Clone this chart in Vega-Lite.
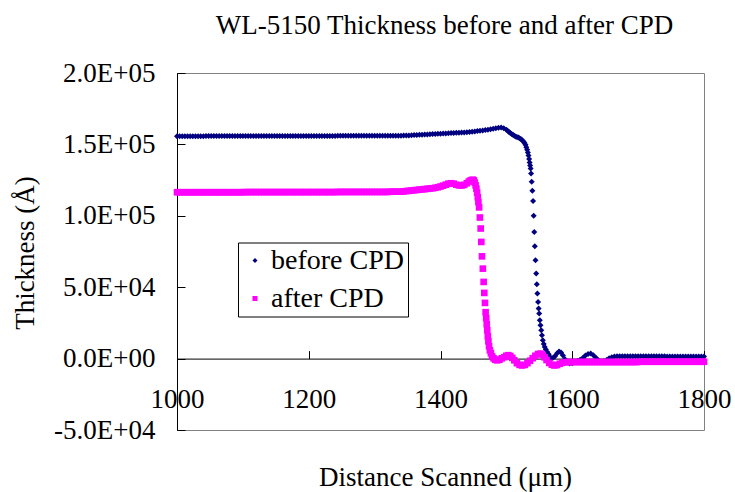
{
  "$schema": "https://vega.github.io/schema/vega-lite/v6.json",
  "width": 527,
  "height": 357,
  "autosize": {"type": "none"},
  "padding": {"left": 177, "top": 73, "right": 31, "bottom": 62},
  "background": "white",
  "config": {
    "font": "Liberation Serif",
    "view": {"stroke": "#808080", "strokeWidth": 1},
    "axis": {
      "labelFont": "Liberation Serif",
      "titleFont": "Liberation Serif",
      "labelFontSize": 27,
      "titleFontSize": 27,
      "labelColor": "black",
      "titleColor": "black",
      "titleFontWeight": "normal",
      "domainColor": "black",
      "tickColor": "black",
      "grid": false,
      "labelOverlap": false,
      "labelFlush": false,
      "labelBound": false
    },
    "legend": {
      "labelFont": "Liberation Serif",
      "labelFontSize": 28,
      "labelColor": "black"
    }
  },
  "title": {
    "text": "WL-5150 Thickness before and after CPD",
    "font": "Liberation Serif",
    "fontSize": 27,
    "fontWeight": "normal",
    "color": "black",
    "anchor": "middle",
    "baseline": "alphabetic",
    "offset": -2,
    "dx": 4
  },
  "datasets": {
    "before": [
      {"x":1000,"y":155700},{"x":1004,"y":155700},{"x":1008,"y":155700},{"x":1012,"y":155700},{"x":1016,"y":155700},{"x":1020,"y":155700},{"x":1024,"y":155700},{"x":1028,"y":155700},{"x":1032,"y":155700},{"x":1036,"y":155700},{"x":1040,"y":155700},
      {"x":1044,"y":155800},{"x":1048,"y":155800},{"x":1052,"y":155800},{"x":1056,"y":155800},{"x":1060,"y":155800},{"x":1064,"y":155800},{"x":1068,"y":155800},{"x":1072,"y":155800},{"x":1076,"y":155800},{"x":1080,"y":155800},{"x":1084,"y":155800},{"x":1088,"y":155800},{"x":1092,"y":155800},{"x":1096,"y":155800},{"x":1100,"y":155800},{"x":1104,"y":155800},{"x":1108,"y":155800},{"x":1112,"y":155800},{"x":1116,"y":155800},{"x":1120,"y":155800},{"x":1124,"y":155800},{"x":1128,"y":155800},{"x":1132,"y":155800},{"x":1136,"y":155800},{"x":1140,"y":155800},
      {"x":1144,"y":155900},{"x":1148,"y":155900},{"x":1152,"y":155900},{"x":1156,"y":155900},{"x":1160,"y":155900},{"x":1164,"y":155900},{"x":1168,"y":155900},{"x":1172,"y":155900},{"x":1176,"y":155900},{"x":1180,"y":155900},{"x":1184,"y":155900},{"x":1188,"y":155900},{"x":1192,"y":155900},{"x":1196,"y":155900},{"x":1200,"y":155900},{"x":1204,"y":155900},{"x":1208,"y":155900},{"x":1212,"y":155900},{"x":1216,"y":155900},{"x":1220,"y":155900},{"x":1224,"y":155900},{"x":1228,"y":155900},{"x":1232,"y":155900},{"x":1236,"y":155900},{"x":1240,"y":155900},
      {"x":1244,"y":156000},{"x":1248,"y":156000},{"x":1252,"y":156000},{"x":1256,"y":156000},{"x":1260,"y":156000},{"x":1264,"y":156000},{"x":1268,"y":156000},{"x":1272,"y":156000},{"x":1276,"y":156000},{"x":1280,"y":156000},{"x":1284,"y":156000},{"x":1288,"y":156000},{"x":1292,"y":156000},{"x":1296,"y":156000},{"x":1300,"y":156000},{"x":1304,"y":156000},{"x":1308,"y":156000},{"x":1312,"y":156000},{"x":1316,"y":156000},{"x":1320,"y":156000},
      {"x":1324,"y":156100},{"x":1328,"y":156100},{"x":1332,"y":156100},{"x":1336,"y":156100},{"x":1340,"y":156100},
      {"x":1344,"y":156200},{"x":1348,"y":156300},{"x":1352,"y":156300},{"x":1356,"y":156400},{"x":1360,"y":156500},{"x":1364,"y":156600},{"x":1368,"y":156700},{"x":1372,"y":156800},{"x":1376,"y":156900},{"x":1380,"y":157000},{"x":1384,"y":157100},{"x":1388,"y":157200},{"x":1392,"y":157300},{"x":1396,"y":157400},{"x":1400,"y":157500},{"x":1404,"y":157600},{"x":1408,"y":157700},{"x":1412,"y":157800},{"x":1416,"y":157900},{"x":1420,"y":158000},{"x":1424,"y":158100},{"x":1428,"y":158200},{"x":1432,"y":158300},{"x":1436,"y":158400},{"x":1440,"y":158500},{"x":1444,"y":158700},{"x":1448,"y":158900},{"x":1452,"y":159100},{"x":1456,"y":159300},{"x":1460,"y":159500},{"x":1464,"y":159700},{"x":1468,"y":160000},{"x":1472,"y":160300},{"x":1476,"y":160600},{"x":1480,"y":160900},{"x":1484,"y":161300},{"x":1488,"y":161700},{"x":1492,"y":161900},{"x":1496,"y":161300},{"x":1500,"y":160200},
      {"x":1502,"y":159500},{"x":1504,"y":158700},{"x":1506,"y":158000},{"x":1508,"y":157300},{"x":1510,"y":156700},{"x":1512,"y":156100},{"x":1514,"y":155600},{"x":1516,"y":155200},{"x":1518,"y":154800},{"x":1520,"y":154300},{"x":1522,"y":153700},{"x":1524,"y":152900},{"x":1526,"y":152000},{"x":1527.5,"y":151000},{"x":1529,"y":149700},{"x":1530.3,"y":148000},{"x":1531.5,"y":146300},{"x":1532.6,"y":144400},{"x":1533.6,"y":142200},{"x":1534.5,"y":139800},{"x":1535.3,"y":137400},{"x":1536.1,"y":135200},{"x":1536.8,"y":133200},
      {"x":1537.5,"y":129700},{"x":1538.4,"y":123800},{"x":1539.5,"y":117500},{"x":1540.5,"y":110300},{"x":1541.5,"y":100000},{"x":1542.3,"y":88700},{"x":1543.2,"y":78700},{"x":1544.2,"y":68900},{"x":1545.3,"y":59600},{"x":1546.2,"y":52100},{"x":1547.1,"y":45600},{"x":1548.1,"y":39700},{"x":1549,"y":35100},{"x":1549.8,"y":31500},{"x":1550.8,"y":26800},{"x":1551.8,"y":23300},{"x":1552.9,"y":19800},{"x":1554,"y":16300},{"x":1555.3,"y":12800},{"x":1556.7,"y":10200},{"x":1558.2,"y":8100},{"x":1560,"y":6300},{"x":1562,"y":4600},{"x":1564.2,"y":3000},{"x":1566.5,"y":1000},{"x":1569,"y":300},{"x":1571.5,"y":700},{"x":1574,"y":1800},{"x":1577,"y":3800},{"x":1580,"y":4900},{"x":1583,"y":4200},{"x":1586,"y":2200},{"x":1589,"y":-500},{"x":1592,"y":-2400},{"x":1596,"y":-3400},{"x":1600,"y":-3300},{"x":1604,"y":-2500},{"x":1608,"y":-1600},{"x":1612,"y":-800},{"x":1616,"y":500},{"x":1620,"y":2200},{"x":1624,"y":3300},{"x":1628,"y":3500},{"x":1632,"y":2400},{"x":1636,"y":600},{"x":1640,"y":-1300},{"x":1644,"y":-2200},{"x":1648,"y":-1900},{"x":1652,"y":-900},{"x":1656,"y":200},{"x":1660,"y":1000},{"x":1664,"y":1500},
      {"x":1668,"y":1600},{"x":1672,"y":1600},{"x":1676,"y":1600},{"x":1680,"y":1600},{"x":1684,"y":1600},{"x":1688,"y":1600},{"x":1692,"y":1600},{"x":1696,"y":1600},{"x":1700,"y":1600},{"x":1704,"y":1600},{"x":1708,"y":1600},{"x":1712,"y":1600},{"x":1716,"y":1600},{"x":1720,"y":1600},{"x":1724,"y":1600},{"x":1728,"y":1600},{"x":1732,"y":1600},{"x":1736,"y":1600},{"x":1740,"y":1600},
      {"x":1744,"y":1400},{"x":1748,"y":1400},{"x":1752,"y":1400},{"x":1756,"y":1400},{"x":1760,"y":1400},{"x":1764,"y":1400},{"x":1768,"y":1400},{"x":1772,"y":1400},{"x":1776,"y":1400},{"x":1780,"y":1400},{"x":1784,"y":1400},{"x":1788,"y":1400},{"x":1792,"y":1400},{"x":1796,"y":1400},{"x":1800,"y":1400}
    ],
    "after": [
      {"x":1000,"y":116500},{"x":1004,"y":116500},{"x":1008,"y":116500},{"x":1012,"y":116500},{"x":1016,"y":116500},{"x":1020,"y":116500},{"x":1024,"y":116500},{"x":1028,"y":116500},{"x":1032,"y":116500},{"x":1036,"y":116500},{"x":1040,"y":116500},{"x":1044,"y":116500},{"x":1048,"y":116500},{"x":1052,"y":116500},{"x":1056,"y":116500},{"x":1060,"y":116500},{"x":1064,"y":116500},{"x":1068,"y":116500},{"x":1072,"y":116500},{"x":1076,"y":116500},{"x":1080,"y":116500},{"x":1084,"y":116500},{"x":1088,"y":116500},{"x":1092,"y":116500},{"x":1096,"y":116500},{"x":1100,"y":116500},
      {"x":1104,"y":116600},{"x":1108,"y":116600},{"x":1112,"y":116600},{"x":1116,"y":116600},{"x":1120,"y":116600},{"x":1124,"y":116600},{"x":1128,"y":116600},{"x":1132,"y":116600},{"x":1136,"y":116600},{"x":1140,"y":116600},{"x":1144,"y":116600},{"x":1148,"y":116600},{"x":1152,"y":116600},{"x":1156,"y":116600},{"x":1160,"y":116600},{"x":1164,"y":116600},{"x":1168,"y":116600},{"x":1172,"y":116600},{"x":1176,"y":116600},{"x":1180,"y":116600},{"x":1184,"y":116600},{"x":1188,"y":116600},{"x":1192,"y":116600},{"x":1196,"y":116600},{"x":1200,"y":116600},{"x":1204,"y":116600},{"x":1208,"y":116600},{"x":1212,"y":116600},{"x":1216,"y":116600},{"x":1220,"y":116600},{"x":1224,"y":116600},{"x":1228,"y":116600},{"x":1232,"y":116600},{"x":1236,"y":116600},{"x":1240,"y":116600},
      {"x":1244,"y":116700},{"x":1248,"y":116700},{"x":1252,"y":116700},{"x":1256,"y":116700},{"x":1260,"y":116700},{"x":1264,"y":116700},{"x":1268,"y":116700},{"x":1272,"y":116700},{"x":1276,"y":116700},{"x":1280,"y":116700},{"x":1284,"y":116700},{"x":1288,"y":116700},{"x":1292,"y":116700},{"x":1296,"y":116700},{"x":1300,"y":116700},{"x":1304,"y":116700},{"x":1308,"y":116700},{"x":1312,"y":116700},{"x":1316,"y":116700},{"x":1320,"y":116700},
      {"x":1324,"y":116900},{"x":1328,"y":116900},{"x":1332,"y":116900},{"x":1336,"y":116900},{"x":1340,"y":116900},
      {"x":1344,"y":117100},{"x":1348,"y":117300},{"x":1352,"y":117500},{"x":1356,"y":117700},{"x":1360,"y":117900},{"x":1364,"y":118100},{"x":1368,"y":118300},{"x":1372,"y":118500},{"x":1376,"y":118700},{"x":1380,"y":118900},{"x":1384,"y":119100},{"x":1388,"y":119300},{"x":1392,"y":119600},{"x":1396,"y":120000},{"x":1400,"y":120500},{"x":1404,"y":121100},{"x":1408,"y":121800},{"x":1412,"y":122500},{"x":1416,"y":122800},{"x":1420,"y":122500},{"x":1424,"y":121800},{"x":1428,"y":121300},{"x":1432,"y":121200},{"x":1436,"y":121700},{"x":1440,"y":122800},{"x":1443,"y":124000},{"x":1446,"y":124900},{"x":1449,"y":125300},
      {"x":1450.5,"y":124800},{"x":1452,"y":123300},{"x":1453.3,"y":121300},{"x":1454.5,"y":119000},{"x":1455.6,"y":116200},{"x":1456.6,"y":113000},{"x":1457.5,"y":109600},{"x":1458.6,"y":105900},{"x":1459.8,"y":98800},{"x":1461,"y":91100},{"x":1462,"y":81700},{"x":1463,"y":71600},{"x":1464.3,"y":63000},{"x":1465.5,"y":53700},{"x":1466.5,"y":46000},{"x":1467.5,"y":39000},{"x":1468.5,"y":32500},{"x":1469.4,"y":28300},{"x":1470.2,"y":24000},{"x":1471,"y":19800},{"x":1471.8,"y":15600},{"x":1472.7,"y":12100},{"x":1473.7,"y":8600},{"x":1475,"y":5800},{"x":1476.5,"y":3700},{"x":1478.3,"y":1600},{"x":1480.5,"y":200},{"x":1483,"y":-800},{"x":1486,"y":-1200},{"x":1489.5,"y":-800},{"x":1493,"y":200},{"x":1497,"y":1000},{"x":1500,"y":2000},{"x":1503,"y":2400},{"x":1506,"y":1800},{"x":1509,"y":500},{"x":1512,"y":-1200},{"x":1516,"y":-3200},{"x":1520,"y":-4400},{"x":1524,"y":-4800},{"x":1528,"y":-4400},{"x":1532,"y":-3200},{"x":1536,"y":-1500},{"x":1540,"y":300},{"x":1544,"y":2000},{"x":1548,"y":3200},{"x":1552,"y":3500},{"x":1555,"y":2600},{"x":1558,"y":900},{"x":1561,"y":-1000},{"x":1565,"y":-3000},{"x":1569,"y":-4300},{"x":1573,"y":-4800},{"x":1577,"y":-4500},{"x":1581,"y":-3600},{"x":1585,"y":-2900},{"x":1590,"y":-2500},
      {"x":1594,"y":-2400},{"x":1598,"y":-2400},{"x":1602,"y":-2400},{"x":1606,"y":-2400},{"x":1610,"y":-2400},{"x":1614,"y":-2400},{"x":1618,"y":-2400},{"x":1622,"y":-2400},{"x":1626,"y":-2400},{"x":1630,"y":-2400},{"x":1634,"y":-2400},{"x":1638,"y":-2400},{"x":1642,"y":-2400},{"x":1646,"y":-2400},{"x":1650,"y":-2400},{"x":1654,"y":-2400},{"x":1658,"y":-2400},{"x":1662,"y":-2400},{"x":1666,"y":-2400},{"x":1670,"y":-2400},{"x":1674,"y":-2400},{"x":1678,"y":-2400},{"x":1682,"y":-2400},{"x":1686,"y":-2400},{"x":1690,"y":-2400},{"x":1694,"y":-2400},{"x":1698,"y":-2400},
      {"x":1702,"y":-2200},{"x":1706,"y":-2200},{"x":1710,"y":-2200},{"x":1714,"y":-2200},{"x":1718,"y":-2200},{"x":1722,"y":-2200},{"x":1726,"y":-2200},{"x":1730,"y":-2200},{"x":1734,"y":-2200},{"x":1738,"y":-2200},{"x":1742,"y":-2200},{"x":1746,"y":-2200},{"x":1750,"y":-2200},{"x":1754,"y":-2200},{"x":1758,"y":-2200},{"x":1762,"y":-2200},{"x":1766,"y":-2200},{"x":1770,"y":-2200},{"x":1774,"y":-2200},{"x":1778,"y":-2200},{"x":1782,"y":-2200},{"x":1786,"y":-2200},{"x":1790,"y":-2200},{"x":1794,"y":-2200},{"x":1798,"y":-2200},{"x":1800,"y":-2200}
    ]
  },
  "encoding": {
    "x": {
      "field": "x",
      "type": "quantitative",
      "scale": {"domain": [1000, 1800], "nice": false, "zero": false},
      "axis": {
        "values": [1000, 1200, 1400, 1600, 1800],
        "format": "d",
        "offset": -71.4,
        "tickSize": -8,
        "labelPadding": 56.7,
        "labelBaseline": "alphabetic",
        "title": "Distance Scanned (μm)",
        "titleBaseline": "alphabetic",
        "titleAlign": "center",
        "titleX": 268,
        "titleY": 126.5
      }
    },
    "y": {
      "field": "y",
      "type": "quantitative",
      "scale": {"domain": [-50000, 200000], "nice": false, "zero": false},
      "axis": {
        "values": [-50000, 0, 50000, 100000, 150000, 200000],
        "tickSize": -8,
        "labelPadding": 30,
        "labelExpr": "datum.value == 200000 ? '2.0E+05' : datum.value == 150000 ? '1.5E+05' : datum.value == 100000 ? '1.0E+05' : datum.value == 50000 ? '5.0E+04' : datum.value == 0 ? '0.0E+00' : '-5.0E+04'",
        "title": "Thickness (Å)",
        "titleAngle": -90,
        "titleBaseline": "alphabetic",
        "titleAlign": "center",
        "titleX": -143.7,
        "titleY": 179.5
      }
    }
  },
  "layer": [
    {
      "data": {"name": "before"},
      "mark": {"type": "point", "filled": true, "opacity": 1, "size": 36, "strokeWidth": 0},
      "encoding": {
        "color": {
          "datum": "before CPD",
          "type": "nominal",
          "scale": {"domain": ["before CPD", "after CPD"], "range": ["#000080", "#FF00FF"]},
          "legend": {
            "title": null,
            "orient": "none",
            "legendX": 61,
            "legendY": 169.5,
            "strokeColor": "black",
            "fillColor": "white",
            "padding": 4,
            "symbolSize": 25,
            "symbolOffset": -1,
            "labelOffset": 2,
            "rowPadding": 10,
            "symbolStrokeWidth": 0,
            "symbolOpacity": 1
          }
        },
        "shape": {
          "datum": "before CPD",
          "type": "nominal",
          "scale": {"domain": ["before CPD", "after CPD"], "range": ["diamond", "square"]}
        }
      }
    },
    {
      "data": {"name": "after"},
      "mark": {"type": "point", "filled": true, "opacity": 1, "size": 44, "strokeWidth": 0},
      "encoding": {
        "color": {"datum": "after CPD", "type": "nominal"},
        "shape": {"datum": "after CPD", "type": "nominal"}
      }
    }
  ]
}
